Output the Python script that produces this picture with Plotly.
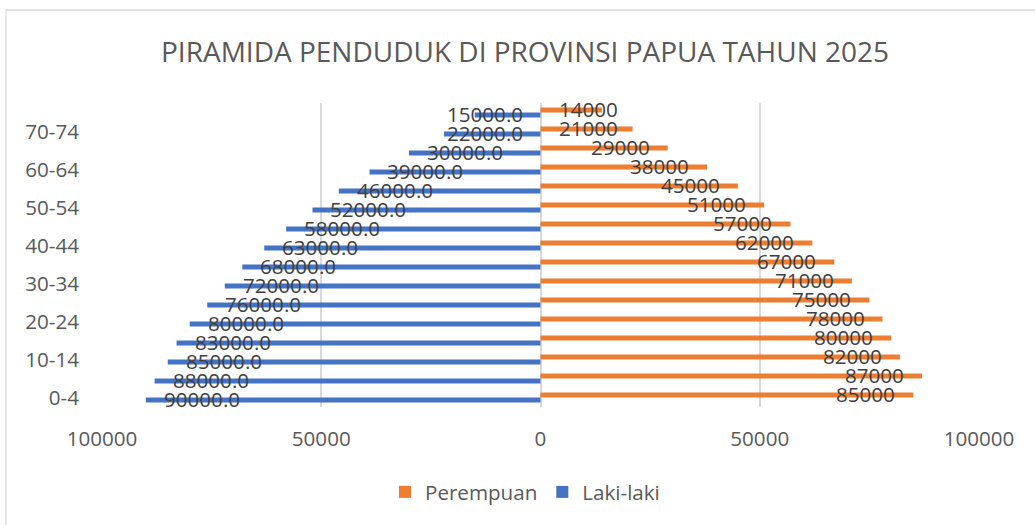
import plotly.graph_objects as go

# ---- data ----
age_groups = ["0-4", "5-9", "10-14", "15-19", "20-24", "25-29", "30-34", "35-39",
              "40-44", "45-49", "50-54", "55-59", "60-64", "65-69", "70-74", "75-79"]
laki_laki = [90000, 88000, 85000, 83000, 80000, 76000, 72000, 68000,
             63000, 58000, 52000, 46000, 39000, 30000, 22000, 15000]
perempuan = [85000, 87000, 82000, 80000, 78000, 75000, 71000, 67000,
             62000, 57000, 51000, 45000, 38000, 29000, 21000, 14000]
x_tickvals = [-100000, -50000, 0, 50000, 100000]
x_ticktext = ["100000", "50000", "0", "50000", "100000"]

BLUE = "#4472C4"
ORANGE = "#ED7D31"
FONT = "Open Sans"
FS = 20.6
BAR_W = 0.26

W, H = 1035, 525
ML, MR, MT, MB = 102, 56, 103, 118
plot_w = W - ML - MR
plot_h = H - MT - MB
px_per_unit = plot_w / 200000.0

ypos = list(range(len(age_groups)))

fig = go.Figure()
fig.add_trace(go.Bar(
    y=ypos, x=[-v for v in laki_laki], orientation="h", name="Laki-laki",
    marker=dict(color=BLUE, line=dict(width=0)), width=BAR_W, offset=-BAR_W,
    legendrank=2, hoverinfo="skip",
))
fig.add_trace(go.Bar(
    y=ypos, x=perempuan, orientation="h", name="Perempuan",
    marker=dict(color=ORANGE, line=dict(width=0)), width=BAR_W, offset=0,
    legendrank=1, hoverinfo="skip",
))

# ---- data labels (Excel "inside end", clamped to stay inside the bar side) ----
PAD = 16
CHAR_W = 0.572 * FS
DOT_W = 0.27 * FS
annotations = []
for i, v in enumerate(laki_laki):
    txt = f"{v}.0"
    tw = 5 * CHAR_W + DOT_W + 2
    if v * px_per_unit < tw + 2 * PAD:
        ax, anchor, shift = 0, "right", -PAD
    else:
        ax, anchor, shift = -v, "left", PAD
    annotations.append(dict(x=ax, y=i - BAR_W / 2, text=txt, xanchor=anchor, yanchor="middle",
                            xshift=shift, yshift=1, showarrow=False,
                            font=dict(family=FONT, size=FS, color="#404040")))
for i, v in enumerate(perempuan):
    txt = f"{v}"
    tw = 5 * CHAR_W + 2
    if v * px_per_unit < tw + 2 * PAD:
        ax, anchor, shift = 0, "left", PAD
    else:
        ax, anchor, shift = v, "right", -PAD
    annotations.append(dict(x=ax, y=i + BAR_W / 2, text=txt, xanchor=anchor, yanchor="middle",
                            xshift=shift, yshift=1, showarrow=False,
                            font=dict(family=FONT, size=FS, color="#404040")))

annotations.append(dict(
    text="PIRAMIDA PENDUDUK DI PROVINSI PAPUA TAHUN 2025",
    xref="paper", yref="paper", x=(525 - ML) / plot_w, y=(H - MB - 51) / plot_h,
    xanchor="center", yanchor="middle", showarrow=False,
    font=dict(family=FONT, size=28, color="#595959"),
))

fig.update_layout(
    width=W, height=H,
    margin=dict(l=ML, r=MR, t=MT, b=MB, pad=0, autoexpand=False),
    paper_bgcolor="white", plot_bgcolor="white",
    barmode="overlay",
    showlegend=True,
    legend=dict(orientation="h", x=(525 - ML) / plot_w, xanchor="center",
                y=(H - MB - 492) / plot_h, yanchor="middle",
                font=dict(family=FONT, size=FS, color="#595959"),
                itemsizing="constant", traceorder="normal"),
    font=dict(family=FONT, size=FS, color="#595959"),
    annotations=annotations,
    shapes=[dict(type="rect", xref="paper", yref="paper",
                 x0=(6 - ML) / plot_w, x1=(1040 - ML) / plot_w,
                 y0=(H - MB - 530) / plot_h, y1=(H - MB - 10) / plot_h,
                 line=dict(color="#D9D9D9", width=1.3), layer="below")],
)
fig.update_xaxes(
    range=[-100000, 100000], tickvals=x_tickvals, ticktext=x_ticktext,
    showgrid=True, gridcolor="#D9D9D9", gridwidth=1.5,
    zeroline=False, showline=False, ticks="", automargin=False,
    ticklabelstandoff=17,
    tickfont=dict(family=FONT, size=FS, color="#595959"),
)
fig.update_yaxes(
    range=[-0.5, len(age_groups) - 0.5],
    tickvals=ypos[::2], ticktext=age_groups[::2],
    showgrid=False, zeroline=False, showline=False, ticks="", automargin=False,
    ticklabelstandoff=22,
    tickfont=dict(family=FONT, size=FS, color="#595959"),
)

fig.write_html(
    "out.html",
    config={"displayModeBar": False},
    post_script="document.body.style.margin='0';document.body.style.overflow='hidden';",
)
